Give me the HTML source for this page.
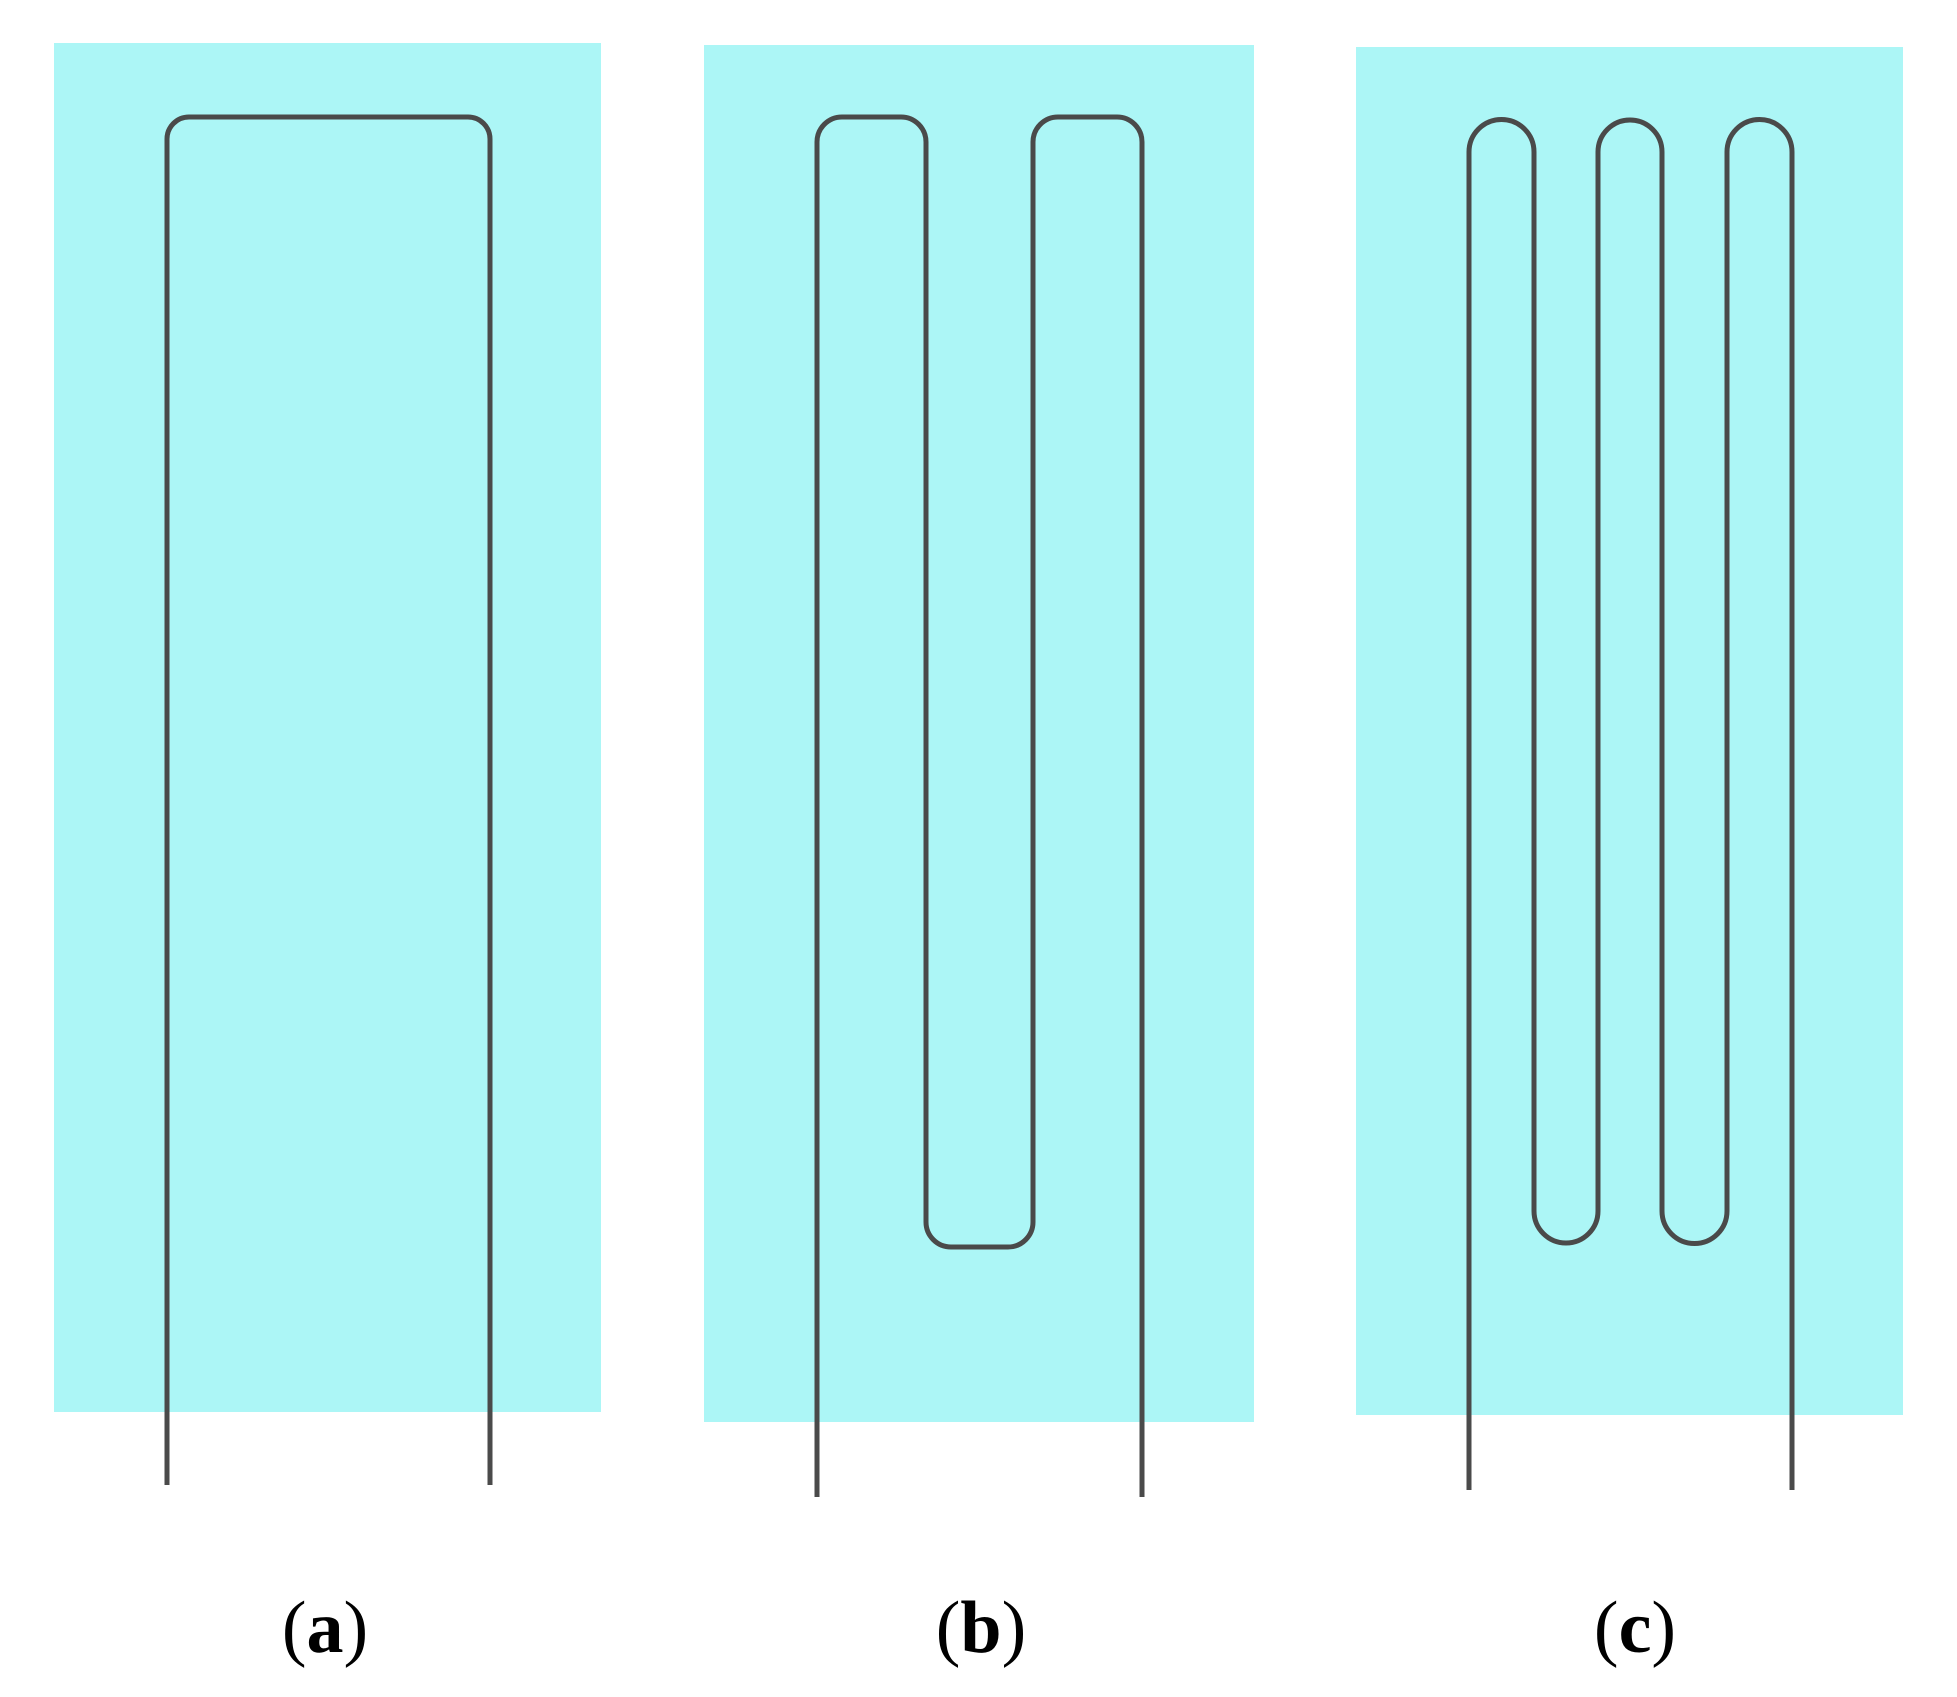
<!DOCTYPE html>
<html><head><meta charset="utf-8"><style>html,body{margin:0;padding:0;background:#fff}svg{display:block}</style></head>
<body>
<svg width="1957" height="1697" viewBox="0 0 1957 1697" xmlns="http://www.w3.org/2000/svg">
<rect x="54" y="43" width="547" height="1369" fill="#acf6f6"/>
<rect x="704" y="45" width="550" height="1377" fill="#acf6f6"/>
<rect x="1356" y="47" width="547" height="1368" fill="#acf6f6"/>
<g fill="none" stroke="#4a4a4a" stroke-width="5" stroke-linejoin="round">
<path d="M167 1485 V139 A22 22 0 0 1 189 117 H468 A22 22 0 0 1 490 139 V1485"/>
<path d="M817 1497 V142 A25 25 0 0 1 842 117 H901 A25 25 0 0 1 926 142 V1222 A25 25 0 0 0 951 1247 H1008 A25 25 0 0 0 1033 1222 V142 A25 25 0 0 1 1058 117 H1117 A25 25 0 0 1 1142 142 V1497"/>
<path d="M1469 1490 V152 A32.5 32.5 0 0 1 1534 152 V1211 A32 32 0 0 0 1598 1211 V152 A32 32 0 0 1 1662 152 V1211 A32.5 32.5 0 0 0 1727 1211 V152 A32.5 32.5 0 0 1 1792 152 V1490"/>
</g>
<g font-family="Liberation Serif, serif" font-size="74" text-anchor="middle" fill="#000">
<text x="325" y="1652">(<tspan font-weight="bold">a</tspan>)</text>
<text x="981" y="1652">(<tspan font-weight="bold">b</tspan>)</text>
<text x="1635" y="1652">(<tspan font-weight="bold">c</tspan>)</text>
</g>
</svg>
</body></html>
